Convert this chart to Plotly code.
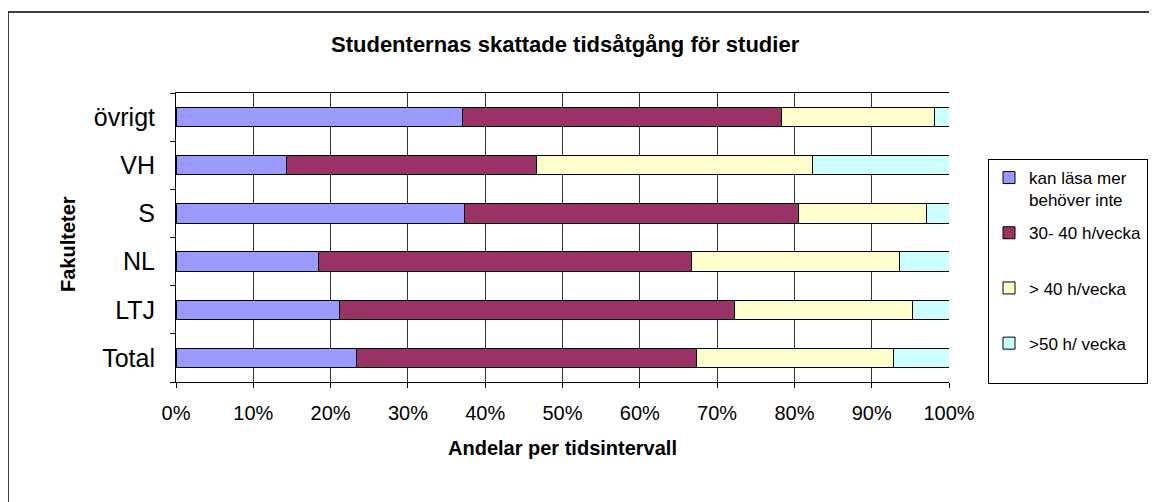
import plotly.graph_objects as go

categories = ["Total", "LTJ", "NL", "S", "VH", "övrigt"]
series_names = ["kan läsa mer<br>behöver inte", "30- 40 h/vecka<br>\u00a0", "> 40 h/vecka<br>\u00a0", ">50 h/ vecka<br>\u00a0"]
kan_lasa = [23.4, 21.1, 18.4, 37.3, 14.3, 37.0]
h30_40 = [43.9, 51.2, 48.3, 43.2, 32.3, 41.3]
h40 = [25.5, 23.0, 26.9, 16.6, 35.8, 19.8]
h50 = [7.2, 4.7, 6.4, 2.9, 17.6, 1.9]
colors = ["#9999FF", "#993366", "#FFFFCC", "#CCFFFF"]
x_ticks = [0, 10, 20, 30, 40, 50, 60, 70, 80, 90, 100]
x_tick_labels = [f"{v}%" for v in x_ticks]

FONT = "Liberation Sans, Arial, sans-serif"

fig = go.Figure()
for i, (name, vals) in enumerate(zip(series_names, [kan_lasa, h30_40, h40, h50])):
    fig.add_trace(go.Bar(
        y=categories, x=vals, name=name, orientation="h",
        marker=dict(color=colors[i], line=dict(color="black", width=1)),
        legendgroup=f"g{i}",
    ))

# the page body adds an 8px margin; work in screen pixels and convert
OFF = 8
W, H = 1157 - OFF, 502 - OFF
L, R, T, B = 176 - OFF, 949 - OFF, 93 - OFF, 382 - OFF

def px_x(px):
    return (px - OFF - L) / (R - L)

def px_y(py):
    return (B - (py - OFF)) / (B - T)

fig.update_layout(
    width=W, height=H,
    barmode="stack", bargap=0.6,
    margin=dict(l=L, r=W - R, t=T, b=H - B, autoexpand=False),
    paper_bgcolor="white", plot_bgcolor="white",
    font=dict(family=FONT, color="black"),
    showlegend=True,
    legend=dict(
        x=px_x(988), y=px_y(159), xanchor="left", yanchor="top",
        bordercolor="black", borderwidth=1, bgcolor="white",
        font=dict(size=17, family=FONT),
        traceorder="grouped", tracegroupgap=8, valign="top",
        itemwidth=30,
    ),
    xaxis=dict(
        range=[0, 100], tickvals=x_ticks, ticktext=x_tick_labels,
        showgrid=True, gridcolor="#333333", gridwidth=1,
        showline=True, linecolor="black", linewidth=1, mirror=True,
        ticks="outside", ticklen=5, tickcolor="black",
        tickfont=dict(size=20, family=FONT),
        ticklabelstandoff=8, zeroline=False, fixedrange=True,
    ),
    yaxis=dict(
        categoryorder="array", categoryarray=categories,
        showline=True, linecolor="black", linewidth=1,
        ticks="outside", ticklen=5, tickcolor="black", tickson="boundaries",
        tickfont=dict(size=25, family=FONT),
        ticklabelstandoff=15, showgrid=False, fixedrange=True,
    ),
    annotations=[
        dict(text="<b>Studenternas skattade tidsåtgång för studier</b>", xref="paper", yref="paper",
             x=px_x(565), y=px_y(45), xanchor="center", yanchor="middle", showarrow=False,
             font=dict(size=22, family=FONT)),
        dict(text="<b>Andelar per tidsintervall</b>", xref="paper", yref="paper",
             x=px_x(562), y=px_y(448), xanchor="center", yanchor="middle", showarrow=False,
             font=dict(size=20, family=FONT)),
        dict(text="<b>Fakulteter</b>", xref="paper", yref="paper", textangle=-90,
             x=px_x(68), y=px_y(244), xanchor="center", yanchor="middle", showarrow=False,
             font=dict(size=20, family=FONT)),
    ],
    shapes=[
        dict(type="rect", xref="paper", yref="paper",
             x0=px_x(8), x1=px_x(1155), y0=px_y(530), y1=px_y(12),
             line=dict(color="black", width=1.5), fillcolor="rgba(0,0,0,0)", layer="below"),
    ],
)

fig.write_html("out.html")
